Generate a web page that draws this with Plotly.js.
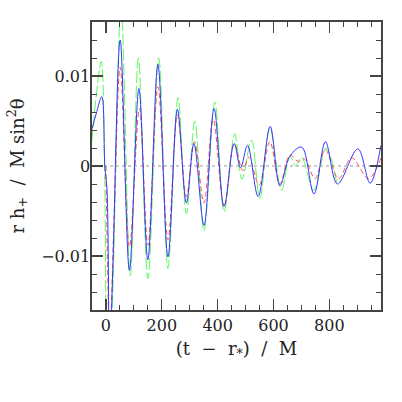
<!DOCTYPE html>
<html><head><meta charset="utf-8">
<script src="https://cdn.plot.ly/plotly-3.0.1.min.js"></script>
<style>html,body{margin:0;padding:0;background:#fff}#plot{width:402px;height:402px}</style>
</head><body><div id="plot"></div>
<script>
// Blue solid curve
const blueT = [-51, -35, -15, -4, 4, 13, 24, 51, 84, 118, 150, 186, 222, 256, 288, 315, 351, 387, 423, 459, 482, 507, 545, 588, 623, 659, 701, 745, 786, 829, 902, 946, 985];
const blueH = [0.0040, 0.0058, 0.0077, 0.0, -0.0028, -0.022, -0.012, 0.0140, -0.0116, 0.0086, -0.0104, 0.0113, -0.0101, 0.0063, -0.0041, 0.0025, -0.0066, 0.0064, -0.0045, 0.0025, -0.0002, 0.0023, -0.0034, 0.0044, -0.0022, 0.0011, 0.0021, -0.0031, 0.0027, -0.0020, 0.0019, -0.0019, 0.0023];
// Red dashed curve
const redT = [0, 14, 28, 51, 84, 120, 150, 186, 222, 256, 288, 317, 351, 384, 423, 459, 490, 512, 548, 587, 623, 659, 689, 710, 749, 785, 833, 880, 940, 985];
const redH = [0.0, -0.019, -0.007, 0.0110, -0.0090, 0.0064, -0.0088, 0.0088, -0.0082, 0.0057, -0.0034, 0.0027, -0.0041, 0.0052, -0.0045, 0.0025, -0.0005, 0.0010, -0.0021, 0.0027, -0.0020, 0.0012, 0.0005, 0.0008, -0.0014, 0.0018, -0.0014, 0.0009, -0.0014, 0.0009];
// Green long-dashed curve
const greenT = [-51, -17, -5, 5, 22, 54, 87, 116, 150, 189, 222, 258, 288, 318, 351, 390, 423, 461, 487, 521, 551, 587, 629, 659, 680, 700, 744, 788, 828];
const greenH = [0.0026, 0.0116, 0.0, -0.025, -0.016, 0.0178, -0.0122, 0.0120, -0.0125, 0.0120, -0.0114, 0.0076, -0.0053, 0.0050, -0.0072, 0.0071, -0.0051, 0.0036, -0.0015, 0.0029, -0.0036, 0.0042, -0.0027, 0.0011, 0.0000, 0.0010, -0.0027, 0.0020, -0.0021];
// Zero reference line
const zeroT = [-50, 985];
const zeroH = [0, 0];
const xTicks = [0, 200, 400, 600, 800];
const yTicks = [-0.01, 0, 0.01];
const yTickText = ['\u22120.01', '0', '0.01'];

const font = 'DejaVu Serif, serif';
const traces = [
  {x: zeroT, y: zeroH, mode: 'lines', line: {color: '#999', width: 1.2, dash: 'dot'}, hoverinfo: 'skip'},
  {x: greenT, y: greenH, mode: 'lines', line: {color: 'rgb(90,250,90)', width: 1, dash: '12px,3px', shape: 'spline', smoothing: 1}},
  {x: redT, y: redH, mode: 'lines', line: {color: 'rgb(255,80,80)', width: 1, dash: '5px,3px', shape: 'spline', smoothing: 1}},
  {x: blueT, y: blueH, mode: 'lines', line: {color: 'rgb(55,55,255)', width: 1, shape: 'spline', smoothing: 1}}
];
const axisCommon = {
  showgrid: false, zeroline: false, showline: true, mirror: 'ticks',
  linecolor: '#444', linewidth: 1.6, ticks: 'inside', ticklen: 11, tickwidth: 1.2, tickcolor: '#444',
  tickfont: {family: font, size: 16, color: '#222'}
};
const layout = {
  width: 402, height: 402, margin: {l: 92, r: 21, t: 22, b: 92},
  paper_bgcolor: '#fff', plot_bgcolor: '#fff', showlegend: false,
  font: {family: font, color: '#222'},
  xaxis: Object.assign({}, axisCommon, {
    range: [-50, 985], tickvals: xTicks, ticktext: xTicks.map(String),
    minor: {dtick: 50, tick0: 0, ticks: 'inside', ticklen: 5, tickcolor: '#444', tickwidth: 1},
    title: {text: '(t\u00a0\u00a0\u2212\u00a0\u00a0r<sub>*</sub>)\u00a0\u00a0/\u00a0\u00a0M', font: {family: font, size: 18, color: '#222'}, standoff: 8}
  }),
  yaxis: Object.assign({}, axisCommon, {
    range: [-0.016, 0.016], tickvals: yTicks, ticktext: yTickText, ticklabelstandoff: -3,
    minor: {dtick: 0.002, tick0: 0, ticks: 'inside', ticklen: 5, tickcolor: '#444', tickwidth: 1},
    title: {text: 'r\u00a0h<sub>+</sub>\u00a0\u00a0/\u00a0\u00a0M\u00a0sin<sup>2</sup>\u03b8', font: {family: font, size: 18, color: '#222'}, standoff: 12}
  })
};
Plotly.newPlot('plot', traces, layout, {staticPlot: true, displayModeBar: false});
</script></body></html>
